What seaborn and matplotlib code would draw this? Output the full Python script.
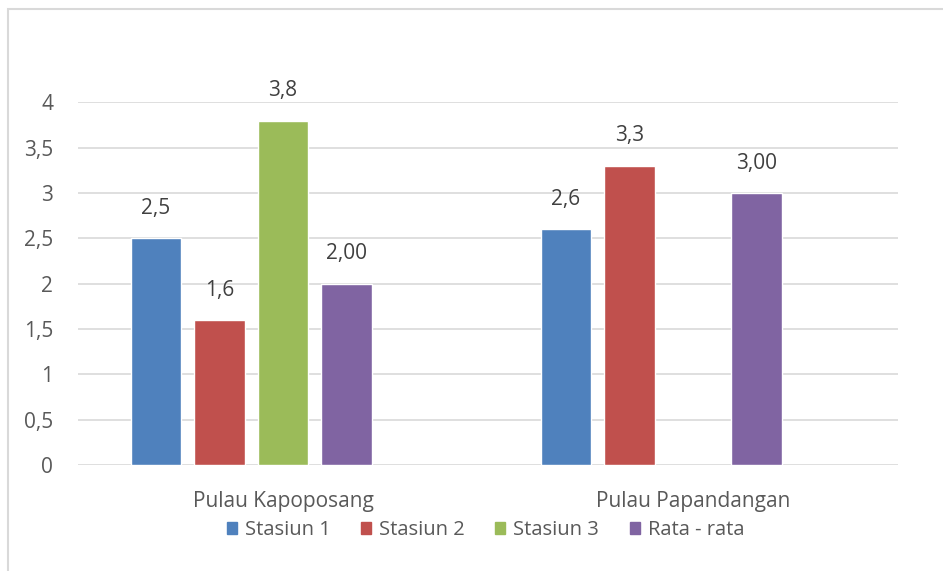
import numpy as np
import pandas as pd
import matplotlib
matplotlib.use("Agg")
import matplotlib.pyplot as plt
from matplotlib.patches import Rectangle
import seaborn as sns

# data
lokasi = ["Pulau Kapoposang", "Pulau Papandangan"]
stasiun_1 = [2.5, 2.6]
stasiun_2 = [1.6, 3.3]
stasiun_3 = [3.8, np.nan]
rata_rata = [2.00, 3.00]
series = ["Stasiun 1", "Stasiun 2", "Stasiun 3", "Rata - rata"]
y_ticks = [0, 0.5, 1, 1.5, 2, 2.5, 3, 3.5, 4]

rows = []
for name, vals in zip(series, [stasiun_1, stasiun_2, stasiun_3, rata_rata]):
    for lok, v in zip(lokasi, vals):
        rows.append({"Lokasi": lok, "Seri": name, "Nilai": v})
df = pd.DataFrame(rows)
# Excel left an empty fifth slot in each group
hue_order = series + [" "]

sns.set_style("white")
plt.rcParams["font.family"] = ["Open Sans", "DejaVu Sans"]

colors = ["#4F81BD", "#C0504D", "#9BBB59", "#8064A2", "#FFFFFF"]

fig = plt.figure(figsize=(9.43, 5.71), dpi=100)
ax = fig.add_axes([78 / 943, 1 - 465 / 571, 820 / 943, 363 / 571])

sns.barplot(data=df, x="Lokasi", y="Nilai", hue="Seri", hue_order=hue_order,
            order=lokasi, palette=colors, width=0.775, gap=0.21,
            saturation=1, ax=ax, legend=False)

ax.set_ylim(0, 4.005)
ax.set_xlim(-0.5, 1.5)
ax.set_yticks(y_ticks)
ax.set_yticklabels([f"{t:g}".replace(".", ",") for t in y_ticks])
ax.yaxis.grid(True, color="#D9D9D9", linewidth=1.2)
ax.set_axisbelow(True)
for s in ax.spines.values():
    s.set_visible(False)
ax.tick_params(axis="y", length=0, pad=18, labelsize=15, labelcolor="#595959")
ax.tick_params(axis="x", length=0, pad=19, labelsize=15, labelcolor="#595959")
ax.set_xlabel("")
ax.set_ylabel("")

# value labels
for cont, name in zip(ax.containers, series):
    dec = 2 if name == "Rata - rata" else 1
    ax.bar_label(cont, fmt=lambda v, d=dec: f"{v:.{d}f}".replace(".", ","),
                 padding=14, fontsize=15, color="#404040")

handles = [Rectangle((0, 0), 1, 1, color=c) for c in colors[:4]]
fig.legend(handles, series, loc="center", bbox_to_anchor=(0.515, 1 - 530 / 571),
           ncol=4, frameon=False, fontsize=14.5, handlelength=0.5,
           handleheight=0.55, handletextpad=0.4, columnspacing=1.5,
           labelcolor="#595959")

# chart frame
fig.patches.append(Rectangle((8 / 943, -0.1), 1.2, 1 - 9 / 571 + 0.1,
                             transform=fig.transFigure, fill=False,
                             edgecolor="#D9D9D9", linewidth=1.5))

fig.savefig("out.png", dpi=100)
